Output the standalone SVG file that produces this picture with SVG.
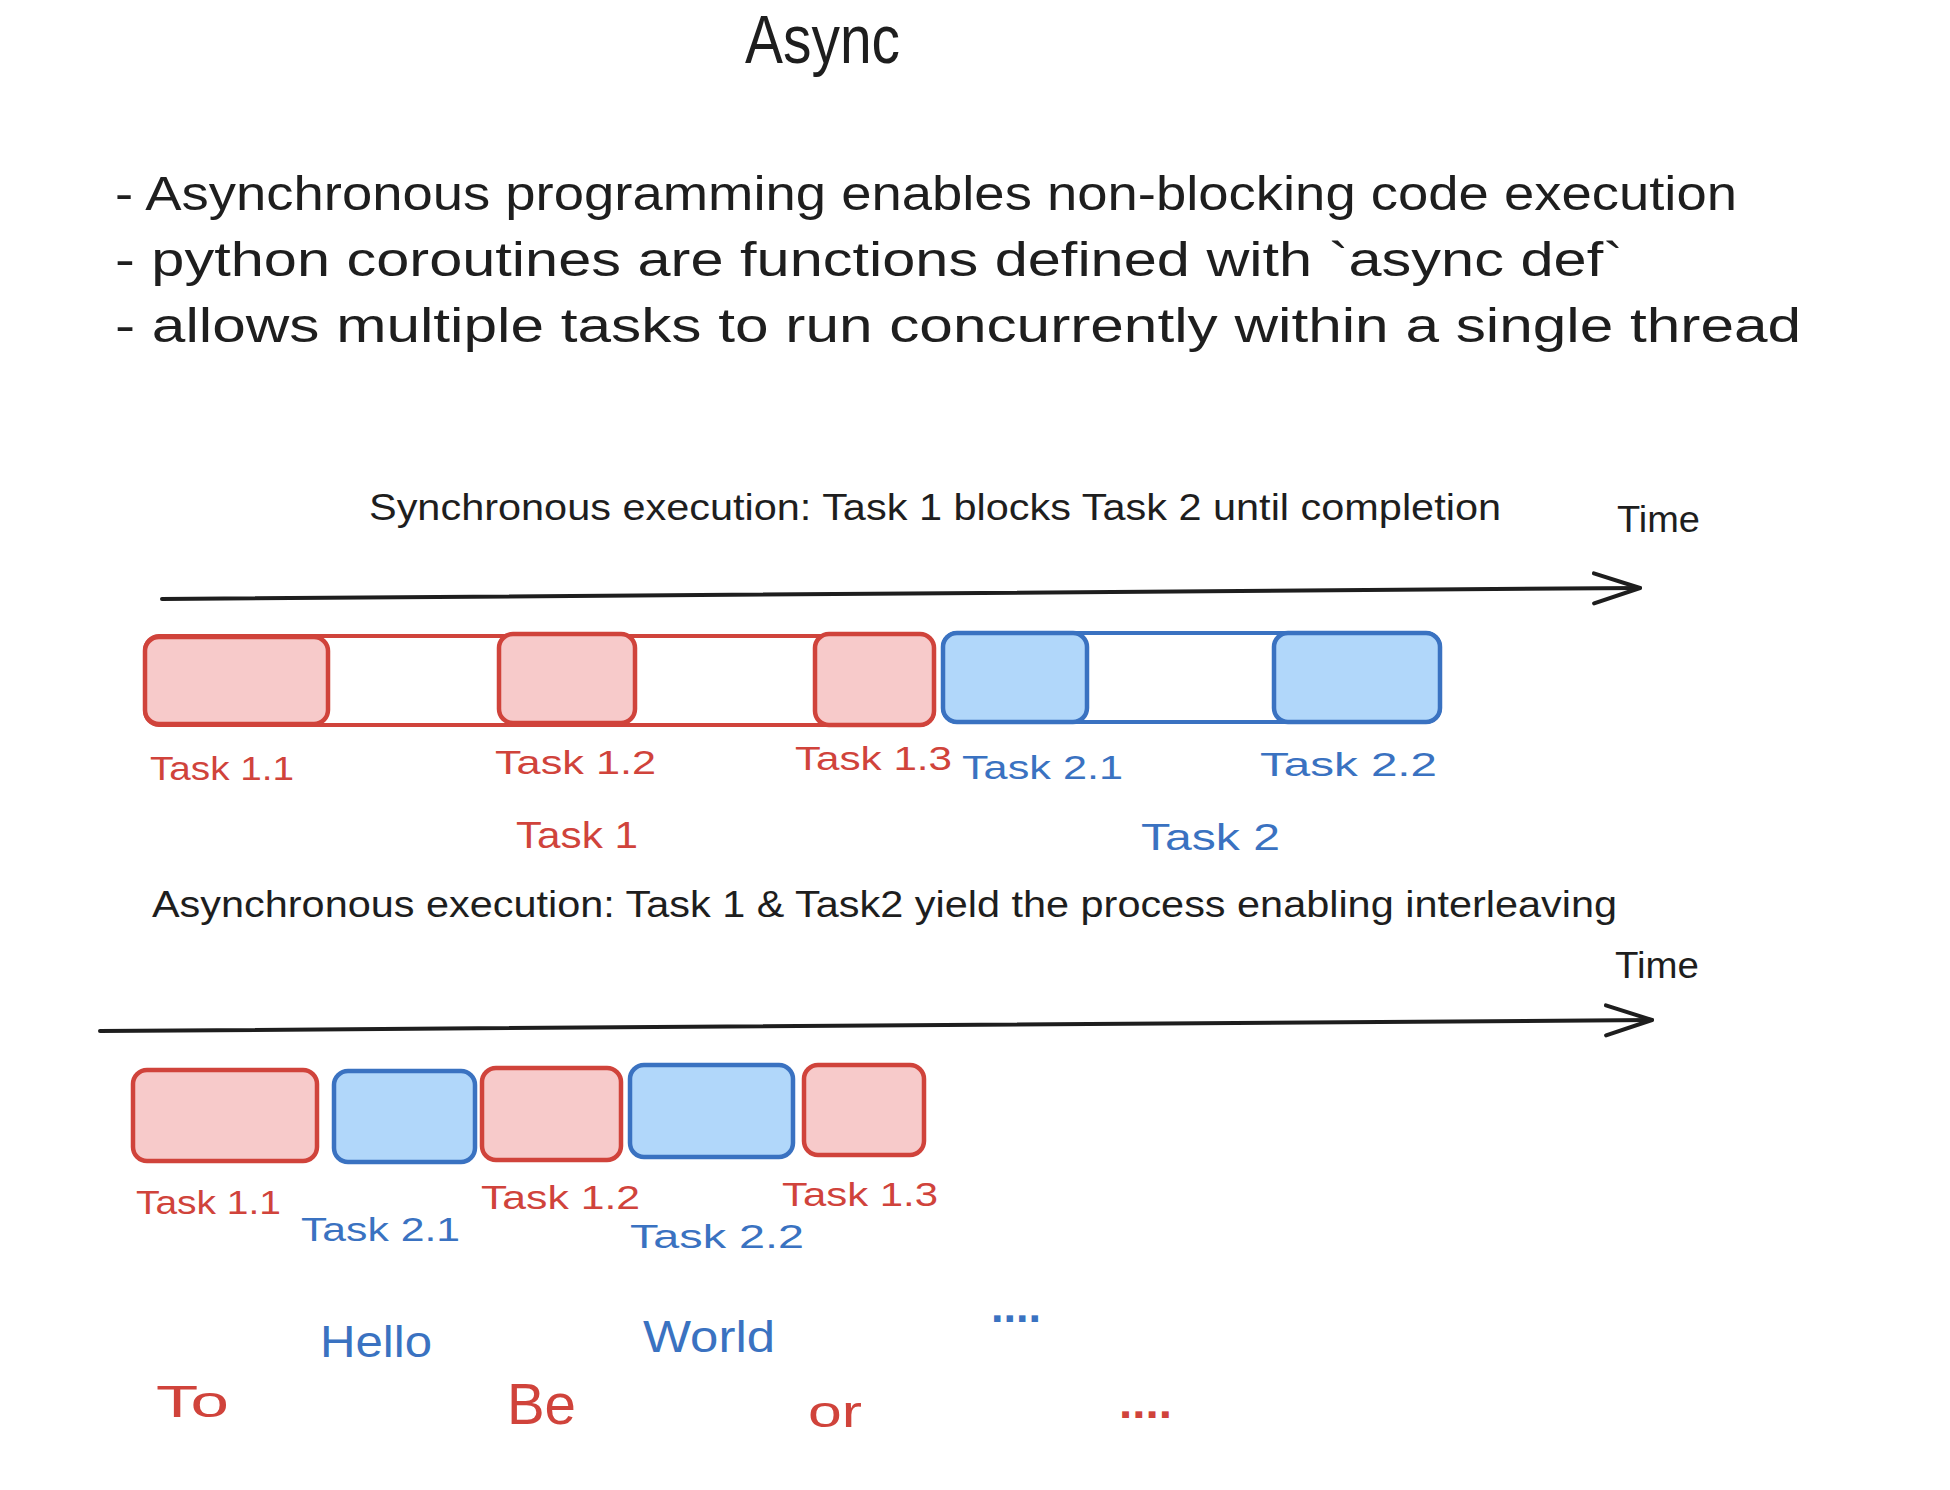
<svg xmlns="http://www.w3.org/2000/svg" width="1950" height="1490" viewBox="0 0 1950 1490">
  <style>
    text { font-family: "Liberation Sans", "Noto Sans", sans-serif; }
    .ink { fill: #1e1e1e; }
    .red { fill: #d0433b; }
    .blue { fill: #3a72c1; }
    .lbl { font-size: 34px; }
    .cap { font-size: 36px; }
    .word { font-size: 44px; }
    .dots { font-size: 44px; font-weight: bold; }
    .rbox { fill: #f7caca; stroke: #d0433b; stroke-width: 4.5; }
    .bbox { fill: #b1d7fa; stroke: #3a72c1; stroke-width: 4.5; }
    .rcont { fill: #ffffff; stroke: #d0433b; stroke-width: 4; }
    .bcont { fill: #ffffff; stroke: #3a72c1; stroke-width: 4; }
    .axis { fill: none; stroke: #1e1e1e; stroke-width: 4; stroke-linecap: round; }
  </style>
  <defs>
    <marker id="arrow" markerUnits="userSpaceOnUse" viewBox="0 0 50 36" refX="48" refY="18" markerWidth="50" markerHeight="36" orient="auto">
      <path d="M2,3 L48,18 L2,33" fill="none" stroke="#1e1e1e" stroke-width="4" stroke-linecap="round" stroke-linejoin="round"/>
    </marker>
  </defs>
  <rect width="1950" height="1490" fill="#ffffff"/>

  <g id="title">
    <text class="ink" x="745" y="63" font-size="68" textLength="155" lengthAdjust="spacingAndGlyphs">Async</text>
  </g>

  <g id="bullets" class="ink" font-size="48">
    <text x="115" y="210" textLength="1622" lengthAdjust="spacingAndGlyphs">- Asynchronous programming enables non-blocking code execution</text>
    <text x="115" y="276" textLength="1508" lengthAdjust="spacingAndGlyphs">- python coroutines are functions defined with `async def`</text>
    <text x="115" y="342" textLength="1686" lengthAdjust="spacingAndGlyphs">- allows multiple tasks to run concurrently within a single thread</text>
  </g>

  <g id="sync-caption">
    <text class="ink cap" x="369" y="520" textLength="1132" lengthAdjust="spacingAndGlyphs">Synchronous execution: Task 1 blocks Task 2 until completion</text>
  </g>
  <g id="time-1">
    <text class="ink cap" x="1617" y="532" textLength="83" lengthAdjust="spacingAndGlyphs">Time</text>
  </g>
  <g id="async-caption">
    <text class="ink cap" x="152" y="917" textLength="1465" lengthAdjust="spacingAndGlyphs">Asynchronous execution: Task 1 &amp; Task2 yield the process enabling interleaving</text>
  </g>
  <g id="time-2">
    <text class="ink cap" x="1615" y="978" textLength="84" lengthAdjust="spacingAndGlyphs">Time</text>
  </g>

  <g id="connectors">
    <path class="axis" d="M162,599 L1640,588" marker-end="url(#arrow)"/>
    <path class="axis" d="M100,1031 L1652,1020" marker-end="url(#arrow)"/>
  </g>

  <!-- Synchronous timeline -->
  <g id="sync-task1">
    <rect class="rcont" x="145" y="636" width="789" height="89" rx="14"/>
    <text class="red" x="516" y="848" font-size="36" textLength="122" lengthAdjust="spacingAndGlyphs">Task 1</text>
  </g>
  <g id="sync-task1-1">
    <rect class="rbox" x="145" y="637" width="183" height="87" rx="14"/>
    <text class="red lbl" x="150" y="780" textLength="144" lengthAdjust="spacingAndGlyphs">Task 1.1</text>
  </g>
  <g id="sync-task1-2">
    <rect class="rbox" x="499" y="634" width="136" height="89" rx="14"/>
    <text class="red lbl" x="495" y="774" textLength="161" lengthAdjust="spacingAndGlyphs">Task 1.2</text>
  </g>
  <g id="sync-task1-3">
    <rect class="rbox" x="815" y="634" width="119" height="91" rx="14"/>
    <text class="red lbl" x="795" y="770" textLength="157" lengthAdjust="spacingAndGlyphs">Task 1.3</text>
  </g>
  <g id="sync-task2">
    <rect class="bcont" x="943" y="633" width="497" height="89" rx="14"/>
    <text class="blue" x="1141" y="850" font-size="36" textLength="139" lengthAdjust="spacingAndGlyphs">Task 2</text>
  </g>
  <g id="sync-task2-1">
    <rect class="bbox" x="943" y="633" width="144" height="89" rx="14"/>
    <text class="blue lbl" x="962" y="779" textLength="161" lengthAdjust="spacingAndGlyphs">Task 2.1</text>
  </g>
  <g id="sync-task2-2">
    <rect class="bbox" x="1274" y="633" width="166" height="89" rx="14"/>
    <text class="blue lbl" x="1260" y="776" textLength="177" lengthAdjust="spacingAndGlyphs">Task 2.2</text>
  </g>

  <!-- Asynchronous timeline -->
  <g id="async-task1-1">
    <rect class="rbox" x="133" y="1070" width="184" height="91" rx="14"/>
    <text class="red lbl" x="136" y="1214" textLength="145" lengthAdjust="spacingAndGlyphs">Task 1.1</text>
  </g>
  <g id="async-task2-1">
    <rect class="bbox" x="334" y="1071" width="141" height="91" rx="14"/>
    <text class="blue lbl" x="301" y="1241" textLength="159" lengthAdjust="spacingAndGlyphs">Task 2.1</text>
  </g>
  <g id="async-task1-2">
    <rect class="rbox" x="482" y="1068" width="139" height="92" rx="14"/>
    <text class="red lbl" x="481" y="1209" textLength="159" lengthAdjust="spacingAndGlyphs">Task 1.2</text>
  </g>
  <g id="async-task2-2">
    <rect class="bbox" x="630" y="1065" width="163" height="92" rx="14"/>
    <text class="blue lbl" x="630" y="1248" textLength="174" lengthAdjust="spacingAndGlyphs">Task 2.2</text>
  </g>
  <g id="async-task1-3">
    <rect class="rbox" x="804" y="1065" width="120" height="90" rx="14"/>
    <text class="red lbl" x="782" y="1206" textLength="156" lengthAdjust="spacingAndGlyphs">Task 1.3</text>
  </g>

  <!-- Output words -->
  <g id="word-hello"><text class="blue word" x="320" y="1357" textLength="112" lengthAdjust="spacingAndGlyphs">Hello</text></g>
  <g id="word-world"><text class="blue word" x="643" y="1352" textLength="132" lengthAdjust="spacingAndGlyphs">World</text></g>
  <g id="word-blue-dots"><text class="blue dots" x="991" y="1322" textLength="50" lengthAdjust="spacingAndGlyphs">....</text></g>
  <g id="word-to"><text class="red word" x="156" y="1417" textLength="73" lengthAdjust="spacingAndGlyphs">To</text></g>
  <g id="word-be"><text class="red" x="507" y="1424" font-size="58" textLength="69" lengthAdjust="spacingAndGlyphs">Be</text></g>
  <g id="word-or"><text class="red word" x="808" y="1427" textLength="54" lengthAdjust="spacingAndGlyphs">or</text></g>
  <g id="word-red-dots"><text class="red dots" x="1119" y="1418" textLength="53" lengthAdjust="spacingAndGlyphs">....</text></g>
</svg>
